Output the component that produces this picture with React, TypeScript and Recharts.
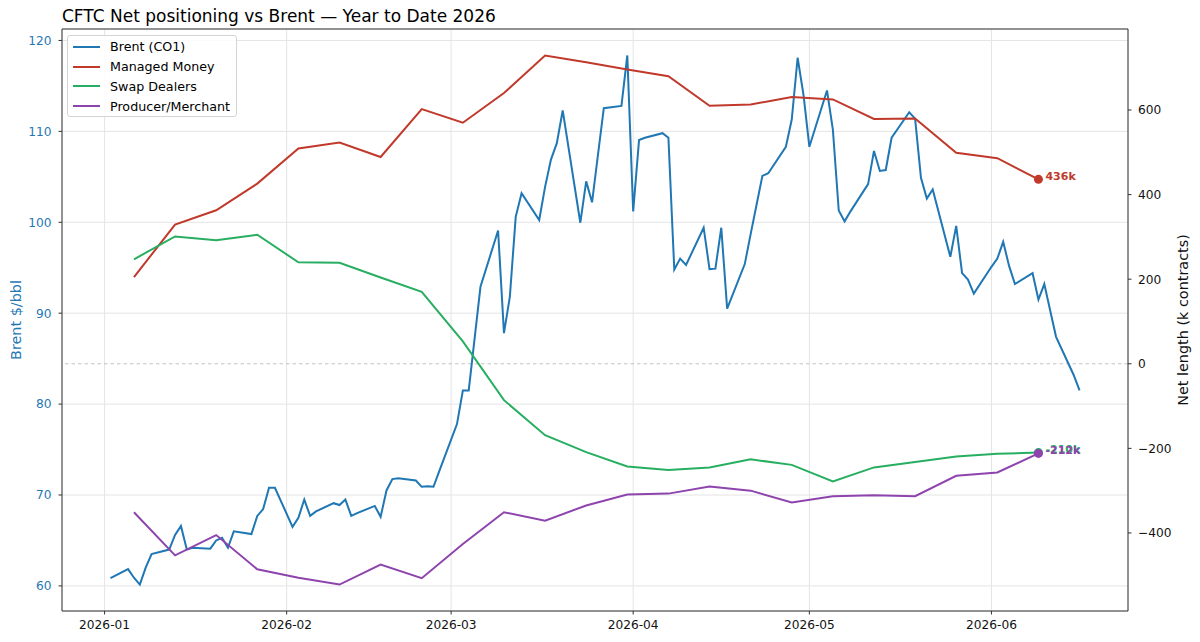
import { LineChart, Line, XAxis, YAxis, CartesianGrid, ReferenceLine, Legend } from 'recharts';

const YEAR = 2026;

// month ticks on the date axis
const monthTicks = ['2026-01', '2026-02', '2026-03', '2026-04', '2026-05', '2026-06'];

// Brent front month, daily closes ($/bbl)
const brentDates = [
  '01-02', '01-05', '01-06', '01-07', '01-08', '01-09', '01-12', '01-13', '01-14', '01-15', '01-16',
  '01-19', '01-20', '01-21', '01-22', '01-23', '01-26', '01-27', '01-28', '01-29', '01-30',
  '02-02', '02-03', '02-04', '02-05', '02-06', '02-09', '02-10', '02-11', '02-12', '02-13',
  '02-16', '02-17', '02-18', '02-19', '02-20', '02-23', '02-24', '02-25', '02-26', '02-27',
  '03-02', '03-03', '03-04', '03-05', '03-06', '03-09', '03-10', '03-11', '03-12', '03-13',
  '03-16', '03-17', '03-18', '03-19', '03-20', '03-23', '03-24', '03-25', '03-26', '03-27',
  '03-30', '03-31', '04-01', '04-02', '04-03', '04-06', '04-07', '04-08', '04-09', '04-10',
  '04-13', '04-14', '04-15', '04-16', '04-17', '04-20', '04-21', '04-22', '04-23', '04-24',
  '04-27', '04-28', '04-29', '04-30', '05-01', '05-04', '05-05', '05-06', '05-07', '05-08',
  '05-11', '05-12', '05-13', '05-14', '05-15', '05-18', '05-19', '05-20', '05-21', '05-22',
  '05-25', '05-26', '05-27', '05-28', '05-29', '06-01', '06-02', '06-03', '06-04', '06-05',
  '06-08', '06-09', '06-10', '06-11', '06-12', '06-15', '06-16'
];
const brentPrices = [
  60.85, 61.85, 60.9, 60.15, 62.0, 63.5, 64.0, 65.6, 66.6, 64.0, 64.2,
  64.1, 65.0, 65.3, 64.2, 66.0, 65.7, 67.7, 68.45, 70.8, 70.8,
  66.5, 67.5, 69.5, 67.7, 68.2, 69.1, 68.9, 69.5, 67.7, 68.0,
  68.8, 67.6, 70.5, 71.75, 71.85, 71.6, 70.9, 70.95, 70.9, 72.65,
  77.8, 81.5, 81.5, 87.2, 92.9, 99.1, 87.8, 91.8, 100.6, 103.2,
  100.25, 103.9, 106.9, 108.7, 112.3, 99.95, 104.5, 102.2, 107.4, 112.55,
  112.8, 118.35, 101.2, 109.05, 109.3, 109.8, 109.3, 94.8, 96.0, 95.3,
  99.4, 94.85, 94.9, 99.4, 90.5, 95.4, 98.7, 101.9, 105.1, 105.4,
  108.3, 111.3, 118.1, 114.0, 108.3, 114.5, 110.2, 101.3, 100.1, 101.2,
  104.2, 107.85, 105.65, 105.75, 109.3, 112.1, 111.4, 104.9, 102.6, 103.6,
  96.2, 99.6, 94.4, 93.7, 92.15, 95.1, 96.0, 97.85, 95.2, 93.2,
  94.4, 91.5, 93.2, 90.3, 87.4, 83.2, 81.5
];

// CFTC report dates (Tuesdays) and net length, k contracts
const cotDates = [
  '01-06', '01-13', '01-20', '01-27', '02-03', '02-10', '02-17', '02-24', '03-03', '03-10', '03-17', '03-24',
  '03-31', '04-07', '04-14', '04-21', '04-28', '05-05', '05-12', '05-19', '05-26', '06-02', '06-09'
];
const managedMoney = [205, 329, 363, 426, 509, 523, 489, 602, 570, 640, 729, 713, 696, 680, 610, 613, 631, 625, 579, 580, 499, 486, 436];
const swapDealers = [247, 301, 292, 305, 240, 239, 204, 170, 53, -86, -169, -209, -243, -251, -245, -226, -239, -278, -245, -232, -219, -213, -210];
const producerMerchant = [-351, -453, -405, -486, -506, -522, -475, -507, -426, -351, -371, -335, -309, -307, -290, -300, -328, -313, -311, -313, -265, -257, -212];

const leftTicks = [60, 70, 80, 90, 100, 110, 120];
const rightTicks = [-400, -200, 0, 200, 400, 600];

const DAY = 86400000;
const dayOf = (md: string) =>
  (Date.UTC(YEAR, Number(md.slice(0, 2)) - 1, Number(md.slice(3, 5))) - Date.UTC(YEAR, 0, 1)) / DAY;

const toSeries = (dates: string[], values: number[]) => dates.map((d, i) => ({ day: dayOf(d), value: values[i] }));

const brentData = toSeries(brentDates, brentPrices);
const mmData = toSeries(cotDates, managedMoney);
const swapData = toSeries(cotDates, swapDealers);
const prodData = toSeries(cotDates, producerMerchant);

// matplotlib-style 5% margins
const padded = (lo: number, hi: number): [number, number] => {
  const m = (hi - lo) * 0.05;
  return [lo - m, hi + m];
};
const xDomain = padded(brentData[0].day, brentData[brentData.length - 1].day);
const leftDomain = padded(Math.min(...brentPrices), Math.max(...brentPrices));
const netAll = [...managedMoney, ...swapDealers, ...producerMerchant];
const rightDomain = padded(Math.min(...netAll), Math.max(...netAll));

const xTicks = monthTicks.map((m) => dayOf(m.slice(5) + '-01'));
const xLabel = (v: number) => monthTicks[xTicks.indexOf(v)] ?? '';
const minus = (v: number) => (v < 0 ? '\u2212' + Math.abs(v) : String(v));

const BLUE = '#1f77b4';
const RED = '#c0392b';
const GREEN = '#27ae60';
const PURPLE = '#8e44ad';

const legendItems = [
  { name: 'Brent (CO1)', color: BLUE },
  { name: 'Managed Money', color: RED },
  { name: 'Swap Dealers', color: GREEN },
  { name: 'Producer/Merchant', color: PURPLE }
];

const FS = 12.2;
const LABEL_FS = 14.4;

function LegendBox() {
  return (
    <div
      style={{
        width: 170,
        height: 82,
        boxSizing: 'border-box',
        border: '1px solid #d4d4d4',
        borderRadius: 3,
        background: 'rgba(255,255,255,0.85)',
        paddingTop: 1
      }}
    >
      {legendItems.map((it) => (
        <div key={it.name} style={{ height: 19.8, display: 'flex', alignItems: 'center', fontSize: 12.7, color: '#000' }}>
          <span style={{ display: 'inline-block', width: 27, height: 2, background: it.color, marginLeft: 5, marginRight: 10 }} />
          <span style={{ whiteSpace: 'nowrap' }}>{it.name}</span>
        </div>
      ))}
    </div>
  );
}

const endDot = (color: string, count: number) => (p: any) => {
  if (p.index !== count - 1) return <g key={`e${p.index}`} />;
  return (
    <g key={`e${p.index}`}>
      <circle cx={p.cx} cy={p.cy} r={4.5} fill={color} />
      <text x={p.cx + 7} y={p.cy - 3} dominantBaseline="central" fontSize={11} fontWeight="bold" fill={color}>
        {`${Math.round(p.value)}k`}
      </text>
    </g>
  );
};

export default function App() {
  return (
    <div
      style={{
        position: 'fixed',
        left: 0,
        top: 0,
        width: 1200,
        height: 642,
        background: '#fff',
        fontFamily: '"DejaVu Sans", sans-serif'
      }}
    >
      <div style={{ position: 'absolute', left: 62, top: 8, fontSize: 17, lineHeight: '17px', whiteSpace: 'nowrap', color: '#000' }}>
        CFTC Net positioning vs Brent — Year to Date 2026
      </div>
      <LineChart width={1200} height={642} margin={{ top: 28, right: 0, bottom: 0, left: 0 }}>
        <CartesianGrid xAxisId={0} yAxisId="left" stroke="#e4e4e4" />
        <XAxis
          dataKey="day"
          type="number"
          domain={xDomain}
          ticks={xTicks}
          interval={0}
          allowDataOverflow
          tickFormatter={xLabel}
          height={31}
          tickSize={3.5}
          tickMargin={6}
          axisLine={{ stroke: '#333' }}
          tickLine={{ stroke: '#333' }}
          tick={{ fontSize: FS, fill: '#111' }}
        />
        <XAxis
          xAxisId="top"
          orientation="top"
          type="number"
          domain={xDomain}
          allowDataOverflow
          height={1}
          tick={false}
          tickLine={false}
          axisLine={{ stroke: '#333' }}
        />
        <YAxis
          yAxisId="left"
          width={62}
          domain={leftDomain}
          ticks={leftTicks}
          interval={0}
          allowDataOverflow
          tickSize={3.5}
          tickMargin={7}
          axisLine={{ stroke: '#333' }}
          tickLine={{ stroke: '#333' }}
          tick={{ fontSize: FS, fill: BLUE }}
          label={{
            value: 'Brent $/bbl',
            angle: -90,
            position: 'insideLeft',
            offset: 15.5,
            fill: BLUE,
            fontSize: LABEL_FS,
            style: { textAnchor: 'middle' }
          }}
        />
        <YAxis
          yAxisId="right"
          orientation="right"
          width={72}
          domain={rightDomain}
          ticks={rightTicks}
          interval={0}
          allowDataOverflow
          tickFormatter={minus}
          tickSize={3.5}
          tickMargin={6.5}
          axisLine={{ stroke: '#333' }}
          tickLine={{ stroke: '#333' }}
          tick={{ fontSize: FS, fill: '#111' }}
          label={{
            value: 'Net length (k contracts)',
            angle: -90,
            position: 'insideRight',
            offset: 17,
            fill: '#111',
            fontSize: LABEL_FS,
            style: { textAnchor: 'middle' }
          }}
        />
        <ReferenceLine yAxisId="right" y={0} stroke="#b5b5b5" strokeWidth={0.8} strokeDasharray="3.5 3" />
        <Legend
          layout="horizontal"
          verticalAlign="middle"
          align="center"
          content={() => <LegendBox />}
          wrapperStyle={{ left: 67, top: 35, width: 172, height: 84 }}
        />
        <Line
          data={brentData}
          dataKey="value"
          name="Brent (CO1)"
          yAxisId="left"
          type="linear"
          stroke={BLUE}
          strokeWidth={2}
          dot={false}
          activeDot={false}
          isAnimationActive={false}
        />
        <Line
          data={mmData}
          dataKey="value"
          name="Managed Money"
          yAxisId="right"
          type="linear"
          stroke={RED}
          strokeWidth={2}
          dot={endDot(RED, mmData.length)}
          activeDot={false}
          isAnimationActive={false}
        />
        <Line
          data={swapData}
          dataKey="value"
          name="Swap Dealers"
          yAxisId="right"
          type="linear"
          stroke={GREEN}
          strokeWidth={2}
          dot={endDot(GREEN, swapData.length)}
          activeDot={false}
          isAnimationActive={false}
        />
        <Line
          data={prodData}
          dataKey="value"
          name="Producer/Merchant"
          yAxisId="right"
          type="linear"
          stroke={PURPLE}
          strokeWidth={2}
          dot={endDot(PURPLE, prodData.length)}
          activeDot={false}
          isAnimationActive={false}
        />
      </LineChart>
    </div>
  );
}
